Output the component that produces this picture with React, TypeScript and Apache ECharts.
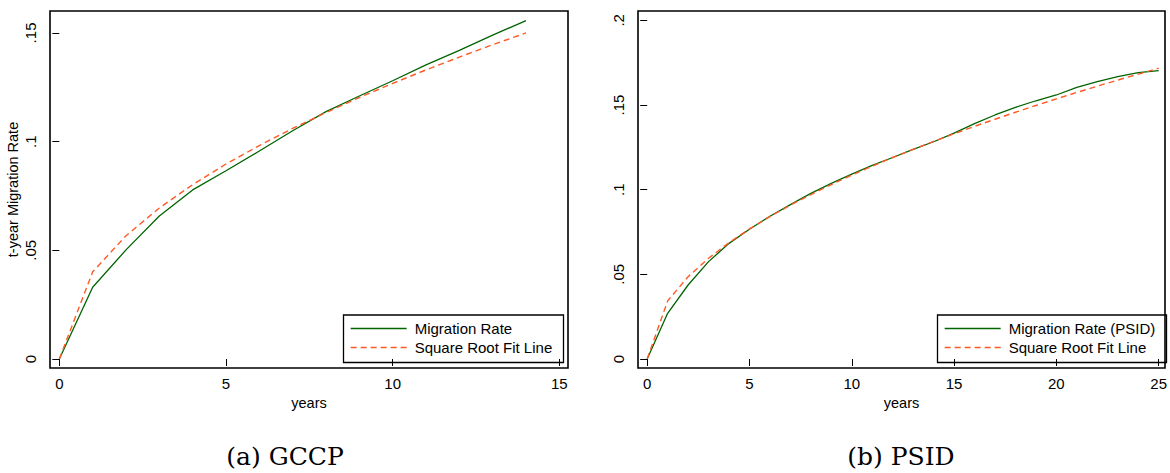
import React, { useEffect, useRef } from "react";
import * as echarts from "echarts";

const gccpYears = [0, 1, 2, 3, 4, 5, 6, 7, 8, 9, 10, 11, 12, 13, 14];
const gccpRate = [0, 0.033, 0.0502, 0.0658, 0.0778, 0.0866, 0.0957, 0.105, 0.1138, 0.121, 0.128, 0.1353, 0.142, 0.149, 0.1557];
const gccpFit = [0, 0.0401, 0.0567, 0.0695, 0.0802, 0.0897, 0.0982, 0.1061, 0.1134, 0.1203, 0.1268, 0.133, 0.1389, 0.1446, 0.15];

const psidYears = [0, 1, 2, 3, 4, 5, 6, 7, 8, 9, 10, 11, 12, 13, 14, 15, 16, 17, 18, 19, 20, 21, 22, 23, 24, 25];
const psidRate = [0, 0.027, 0.0437, 0.0575, 0.0683, 0.0766, 0.0843, 0.0912, 0.0978, 0.1037, 0.1092, 0.1143, 0.119, 0.1238, 0.1283, 0.1334, 0.139, 0.1441, 0.1486, 0.1525, 0.1559, 0.1604, 0.1638, 0.1667, 0.1691, 0.1703];
const psidFit = [0, 0.0343, 0.0486, 0.0595, 0.0687, 0.0768, 0.0841, 0.0909, 0.0971, 0.103, 0.1086, 0.1139, 0.119, 0.1238, 0.1285, 0.133, 0.1374, 0.1416, 0.1457, 0.1497, 0.1536, 0.1574, 0.1611, 0.1647, 0.1682, 0.1717];

const gccpXTicks = [0, 5, 10, 15];
const gccpYTicks = [0, 0.05, 0.1, 0.15];
const psidXTicks = [0, 5, 10, 15, 20, 25];
const psidYTicks = [0, 0.05, 0.1, 0.15, 0.2];

const SANS = "Liberation Sans, Arial, sans-serif";
const GREEN = "#006400";
const RED = "#ff5a26";

const fmtY = (v: number) => (v === 0 ? "0" : String(+v.toFixed(4)).replace(/^0/, ""));

function xAxis(grid: number, min: number, max: number, ticks: number[]) {
  return {
    type: "value",
    gridIndex: grid,
    min,
    max,
    axisLine: { show: false },
    splitLine: { show: false },
    axisTick: { show: true, customValues: ticks, length: 7, lineStyle: { color: "#000", width: 1 } },
    axisLabel: { customValues: ticks, margin: 8, fontSize: 15, color: "#000", fontFamily: SANS },
    name: "years",
    nameLocation: "middle",
    nameGap: 23,
    nameTextStyle: { fontSize: 14.5, color: "#000", fontFamily: SANS },
  };
}

function yAxis(grid: number, min: number, max: number, ticks: number[], name: string) {
  return {
    type: "value",
    gridIndex: grid,
    min,
    max,
    axisLine: { show: false },
    splitLine: { show: false },
    axisTick: { show: true, customValues: ticks, length: 7, lineStyle: { color: "#000", width: 1 } },
    axisLabel: {
      customValues: ticks,
      rotate: 90,
      margin: 12,
      fontSize: 15,
      color: "#000",
      fontFamily: SANS,
      formatter: fmtY,
    },
    name,
    nameLocation: "middle",
    nameGap: 30,
    nameTextStyle: { fontSize: 14.5, color: "#000", fontFamily: SANS },
  };
}

function lineSeries(name: string, xs: number[], ys: number[], idx: number, color: string, dashed: boolean) {
  return {
    type: "line",
    name,
    xAxisIndex: idx,
    yAxisIndex: idx,
    data: xs.map((x, i) => [x, ys[i]]),
    symbol: "none",
    showSymbol: false,
    lineStyle: { color, width: dashed ? 1.4 : 1.3, type: dashed ? [6, 4] : "solid" },
    itemStyle: { color, opacity: 0 },
  };
}

function legend(left: number, names: string[]) {
  return {
    left,
    top: 321,
    orient: "vertical",
    padding: 0,
    itemWidth: 56,
    itemHeight: 16,
    itemGap: 4,
    selectedMode: false,
    data: names,
    itemStyle: { opacity: 0 },
    lineStyle: { width: 1.3 },
    textStyle: { fontSize: 15, color: "#000", fontFamily: SANS, padding: [0, 0, 0, 3] },
  };
}

export default function App() {
  const ref = useRef<HTMLDivElement>(null);
  useEffect(() => {
    if (!ref.current) return;
    const chart = echarts.init(ref.current, undefined, { renderer: "svg" });
    chart.setOption({
      animation: false,
      backgroundColor: "#fff",
      grid: [
        { left: 50, top: 11, width: 518, height: 357, show: true, borderColor: "#000", borderWidth: 1.6, backgroundColor: "transparent" },
        { left: 638, top: 11, width: 534, height: 357, show: true, borderColor: "#000", borderWidth: 1.6, backgroundColor: "transparent" },
      ],
      xAxis: [xAxis(0, -0.28, 15.26, gccpXTicks), xAxis(1, -0.449, 25.31, psidXTicks)],
      yAxis: [
        yAxis(0, -0.00414, 0.1601, gccpYTicks, "t-year Migration Rate"),
        yAxis(1, -0.00531, 0.2055, psidYTicks, ""),
      ],
      legend: [legend(350, ["Migration Rate", "Square Root Fit Line"]), legend(944, ["Migration Rate (PSID)", "Square Root Fit Line"])],
      series: [
        lineSeries("Migration Rate", gccpYears, gccpRate, 0, GREEN, false),
        lineSeries("Square Root Fit Line", gccpYears, gccpFit, 0, RED, true),
        lineSeries("Migration Rate (PSID)", psidYears, psidRate, 1, GREEN, false),
        lineSeries("Square Root Fit Line", psidYears, psidFit, 1, RED, true),
      ],
      graphic: [
        { type: "rect", shape: { x: 343.5, y: 315, width: 220, height: 47.5 }, style: { fill: "none", stroke: "#000", lineWidth: 1.3 }, z: 10 },
        { type: "rect", shape: { x: 937.5, y: 315, width: 229, height: 47.5 }, style: { fill: "none", stroke: "#000", lineWidth: 1.3 }, z: 10 },
        { type: "text", x: 285, y: 456, style: { text: "(a) GCCP", font: "25px 'DejaVu Serif', serif", fill: "#000", textAlign: "center", textVerticalAlign: "middle" } },
        { type: "text", x: 901, y: 456, style: { text: "(b) PSID", font: "25px 'DejaVu Serif', serif", fill: "#000", textAlign: "center", textVerticalAlign: "middle" } },
      ],
    });
    return () => chart.dispose();
  }, []);
  return <div ref={ref} style={{ position: "absolute", left: 0, top: 0, width: 1170, height: 473 }} />;
}
